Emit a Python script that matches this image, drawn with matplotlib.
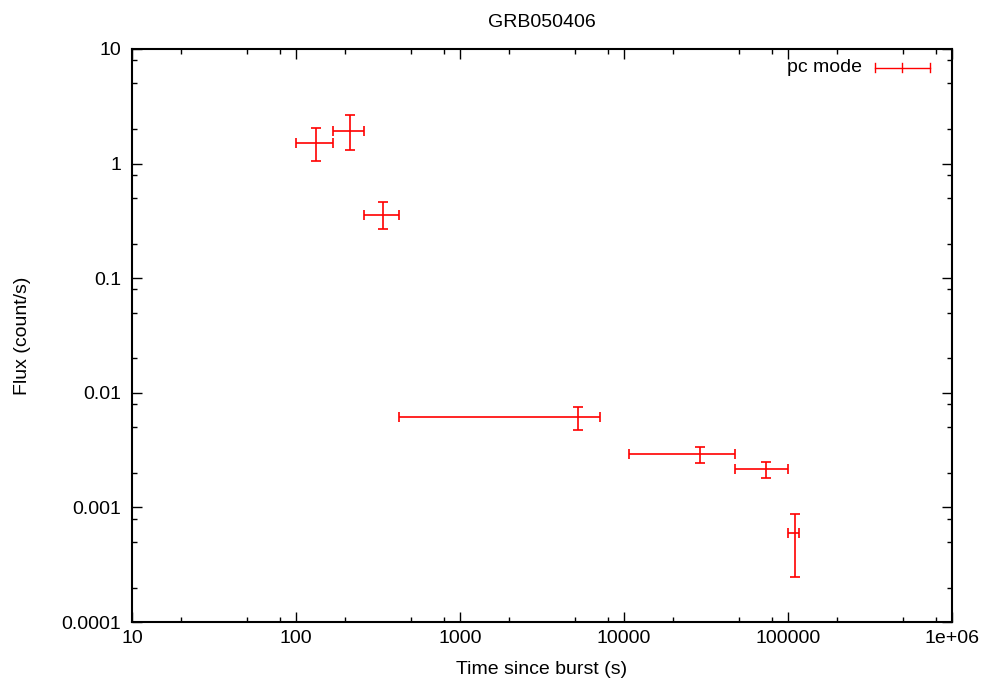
import numpy as np
import matplotlib
matplotlib.use("Agg")
import matplotlib.pyplot as plt
from matplotlib.ticker import FixedLocator, FixedFormatter, NullFormatter

plt.rcParams['font.family'] = ['Liberation Sans', 'DejaVu Sans']

# Swift XRT light curve, PC mode
time = [131.9, 212.5, 339.2, 5221.0, 29190.0, 73110.0, 110300.0]
time_lo = [99.6, 168.8, 258.7, 426.5, 10730.0, 47320.0, 100000.0]
time_hi = [168.8, 258.7, 426.5, 7171.0, 47320.0, 99560.0, 116700.0]
flux = [1.503, 1.913, 0.358, 0.00618, 0.002924, 0.00215, 0.000598]
flux_lo = [1.047, 1.306, 0.267, 0.00474, 0.002426, 0.001795, 0.000245]
flux_hi = [2.058, 2.655, 0.459, 0.00756, 0.003366, 0.002475, 0.00087]

x_ticks = [10, 100, 1000, 10000, 100000, 1000000]
x_labels = ['10', '100', '1000', '10000', '100000', '1e+06']
y_ticks = [0.0001, 0.001, 0.01, 0.1, 1, 10]
y_labels = ['0.0001', '0.001', '0.01', '0.1', '1', '10']

time = np.array(time); flux = np.array(flux)
xerr = [time - np.array(time_lo), np.array(time_hi) - time]
yerr = [flux - np.array(flux_lo), np.array(flux_hi) - flux]

fig = plt.figure(figsize=(9.91, 6.87), dpi=100)
ax = fig.add_axes([0.1332, 0.0946, 0.9607 - 0.1332, 0.9287 - 0.0946])

red = '#ff0000'
ax.errorbar(time, flux, xerr=xerr, yerr=yerr, fmt='none', ecolor=red,
            elinewidth=1.2, capsize=3.5, capthick=1.2)

ax.set_xscale('log')
ax.set_yscale('log')
ax.set_xlim(10, 1e6)
ax.set_ylim(1e-4, 10)

ax.xaxis.set_major_locator(FixedLocator(x_ticks))
ax.xaxis.set_major_formatter(FixedFormatter(x_labels))
ax.yaxis.set_major_locator(FixedLocator(y_ticks))
ax.yaxis.set_major_formatter(FixedFormatter(y_labels))

xminor = [m * d for d in x_ticks[:-1] for m in (2, 5, 8)]
yminor = [m * d for d in y_ticks[:-1] for m in (2, 5, 8)]
ax.xaxis.set_minor_locator(FixedLocator(xminor))
ax.yaxis.set_minor_locator(FixedLocator(yminor))
ax.xaxis.set_minor_formatter(NullFormatter())
ax.yaxis.set_minor_formatter(NullFormatter())

ax.tick_params(which='both', direction='in', top=True, right=True,
               labelsize=14, width=1.0, colors='black')
ax.tick_params(axis='y', which='major', length=7, pad=8)
ax.tick_params(axis='x', which='major', length=7, pad=6)
ax.tick_params(which='minor', length=3.5)
for sp in ax.spines.values():
    sp.set_linewidth(1.5)

ax.set_xlabel('Time since burst (s)', fontsize=14, labelpad=10)
ax.set_ylabel('Flux (count/s)', fontsize=14, labelpad=22)
ax.set_title('GRB050406', fontsize=14, pad=16)

# key: label with a horizontal error-bar sample
ky = 0.967
ax.text(0.890, ky, 'pc mode', transform=ax.transAxes, ha='right',
        va='center', fontsize=14)
kx0, kx1 = 0.906, 0.973
ax.plot([kx0, kx1], [ky, ky], color=red, lw=1.0, transform=ax.transAxes)
for kx in (kx0, (kx0 + kx1) / 2, kx1):
    ax.plot([kx, kx], [ky - 0.008, ky + 0.008], color=red, lw=1.0,
            transform=ax.transAxes)

fig.savefig('out.png', dpi=100)
